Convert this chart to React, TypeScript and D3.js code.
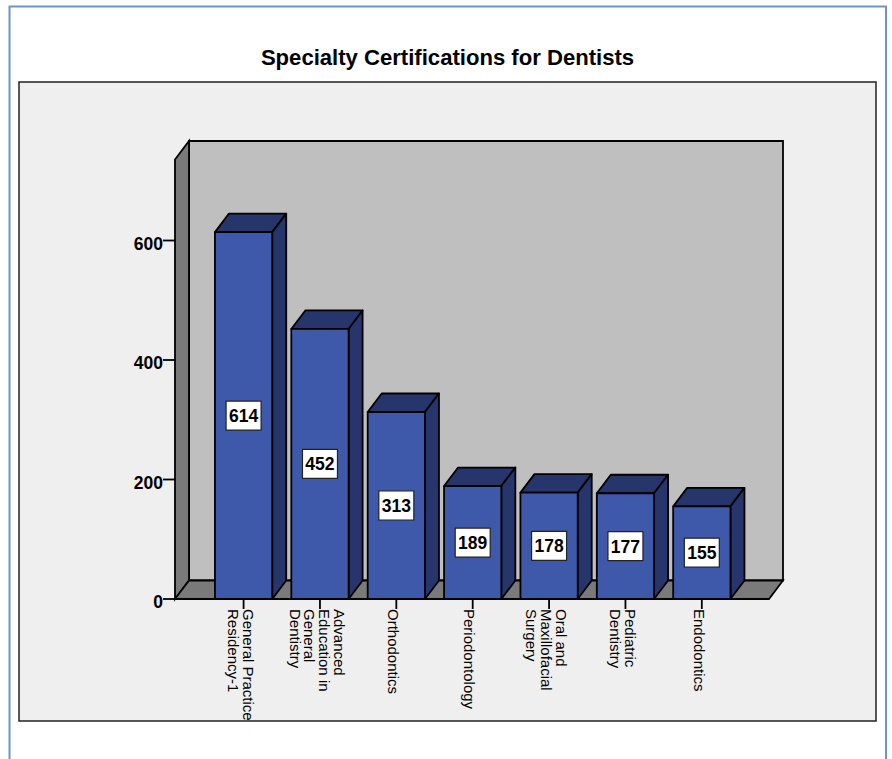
import React from "react";
import * as d3 from "d3";

const specialties = [
  ["General Practice", "Residency-1"],
  ["Advanced", "Education in", "General", "Dentistry"],
  ["Orthodontics"],
  ["Periodontology"],
  ["Oral and", "Maxillofacial", "Surgery"],
  ["Pediatric", "Dentistry"],
  ["Endodontics"],
];
const counts = [614, 452, 313, 189, 178, 177, 155];
const yTicks = [0, 200, 400, 600];
const chartTitle = "Specialty Certifications for Dentists";

const WIDTH = 892;
const HEIGHT = 759;
const FONT = "'Liberation Sans', Arial, sans-serif";
const DEPTH_X = 14;
const DEPTH_Y = 18.5;

const y = d3.scaleLinear().domain([0, 600]).range([599, 240.5]);
const x = d3
  .scaleBand<number>()
  .domain(d3.range(counts.length))
  .range([205.4, 740])
  .paddingInner(0.25)
  .paddingOuter(0.125);

const poly = (pts: [number, number][]) => d3.line()(pts) + "Z";

export default function App() {
  const floorY = y(0);
  const wallLeft = 175;
  const wallRight = 769;
  const wallTop = 159.5;
  const bw = x.bandwidth();

  return (
    <svg
      width={WIDTH}
      height={HEIGHT}
      style={{ position: "absolute", left: 0, top: 0 }}
      fontFamily={FONT}
    >
      <path d="M9.5 759V6.5H886V759" fill="#fff" stroke="#6d94c9" strokeWidth={2} />
      <text x={447.5} y={65} textAnchor="middle" fontSize={22.1} fontWeight="bold" fill="#000">
        {chartTitle}
      </text>
      <rect x={19} y={82} width={857} height={639} fill="#efefef" stroke="#222" strokeWidth={1.5} />

      {/* Three-dimensional plot box: back wall, left wall, floor */}
      <path
        d={poly([
          [wallLeft + DEPTH_X, wallTop - DEPTH_Y],
          [wallRight + DEPTH_X, wallTop - DEPTH_Y],
          [wallRight + DEPTH_X, floorY - DEPTH_Y],
          [wallLeft + DEPTH_X, floorY - DEPTH_Y],
        ])}
        fill="#bfbfbf"
        stroke="#000"
        strokeWidth={1.8}
      />
      <path
        d={poly([
          [wallLeft, wallTop],
          [wallLeft + DEPTH_X, wallTop - DEPTH_Y],
          [wallLeft + DEPTH_X, floorY - DEPTH_Y],
          [wallLeft, floorY],
        ])}
        fill="#7a7a7a"
        stroke="#000"
        strokeWidth={1.8}
      />
      <path
        d={poly([
          [wallLeft, floorY],
          [wallLeft + DEPTH_X, floorY - DEPTH_Y],
          [wallRight + DEPTH_X, floorY - DEPTH_Y],
          [wallRight, floorY],
        ])}
        fill="#7a7a7a"
        stroke="#000"
        strokeWidth={1.8}
      />

      {/* Value axis */}
      {yTicks.map((t) => (
        <g key={t}>
          <line x1={163} x2={wallLeft} y1={y(t)} y2={y(t)} stroke="#000" strokeWidth={1.8} />
          <text
            x={163}
            y={y(t) + 9}
            textAnchor="end"
            fontSize={17.5}
            fontWeight="bold"
            fill="#000"
          >
            {t}
          </text>
        </g>
      ))}

      {/* Category ticks and rotated labels */}
      {specialties.map((lines, i) => {
        const cx = x(i)! + bw / 2;
        return (
          <g key={i}>
            <line x1={cx} x2={cx} y1={floorY} y2={609} stroke="#000" strokeWidth={1.8} />
            <g transform={`translate(${cx},609) rotate(90)`}>
              {lines.map((line, j) => (
                <text
                  key={j}
                  x={0}
                  y={8.2 + (j - (lines.length - 1) / 2) * 14.7}
                  fontSize={15}
                  fill="#000"
                >
                  {line}
                </text>
              ))}
            </g>
          </g>
        );
      })}

      {/* Bars */}
      {counts.map((v, i) => {
        const x0 = x(i)!;
        const x1 = x0 + bw;
        const top = y(v);
        const cx = x0 + bw / 2;
        const cy = (top + floorY) / 2;
        return (
          <g key={i} stroke="#000" strokeWidth={1.8} strokeLinejoin="round">
            <path
              d={poly([
                [x0, top],
                [x0 + DEPTH_X, top - DEPTH_Y],
                [x1 + DEPTH_X, top - DEPTH_Y],
                [x1, top],
              ])}
              fill="#26356b"
            />
            <path
              d={poly([
                [x1, top],
                [x1 + DEPTH_X, top - DEPTH_Y],
                [x1 + DEPTH_X, floorY - DEPTH_Y],
                [x1, floorY],
              ])}
              fill="#26356b"
            />
            <rect x={x0} y={top} width={bw} height={floorY - top} fill="#3e59aa" />
            <rect
              x={cx - 17.5}
              y={cy - 14.5}
              width={35}
              height={29}
              fill="#fff"
              stroke="#222"
              strokeWidth={1.2}
            />
            <text
              x={cx}
              y={cy + 6.5}
              textAnchor="middle"
              fontSize={17.5}
              fontWeight="bold"
              fill="#000"
              stroke="none"
            >
              {v}
            </text>
          </g>
        );
      })}
    </svg>
  );
}
